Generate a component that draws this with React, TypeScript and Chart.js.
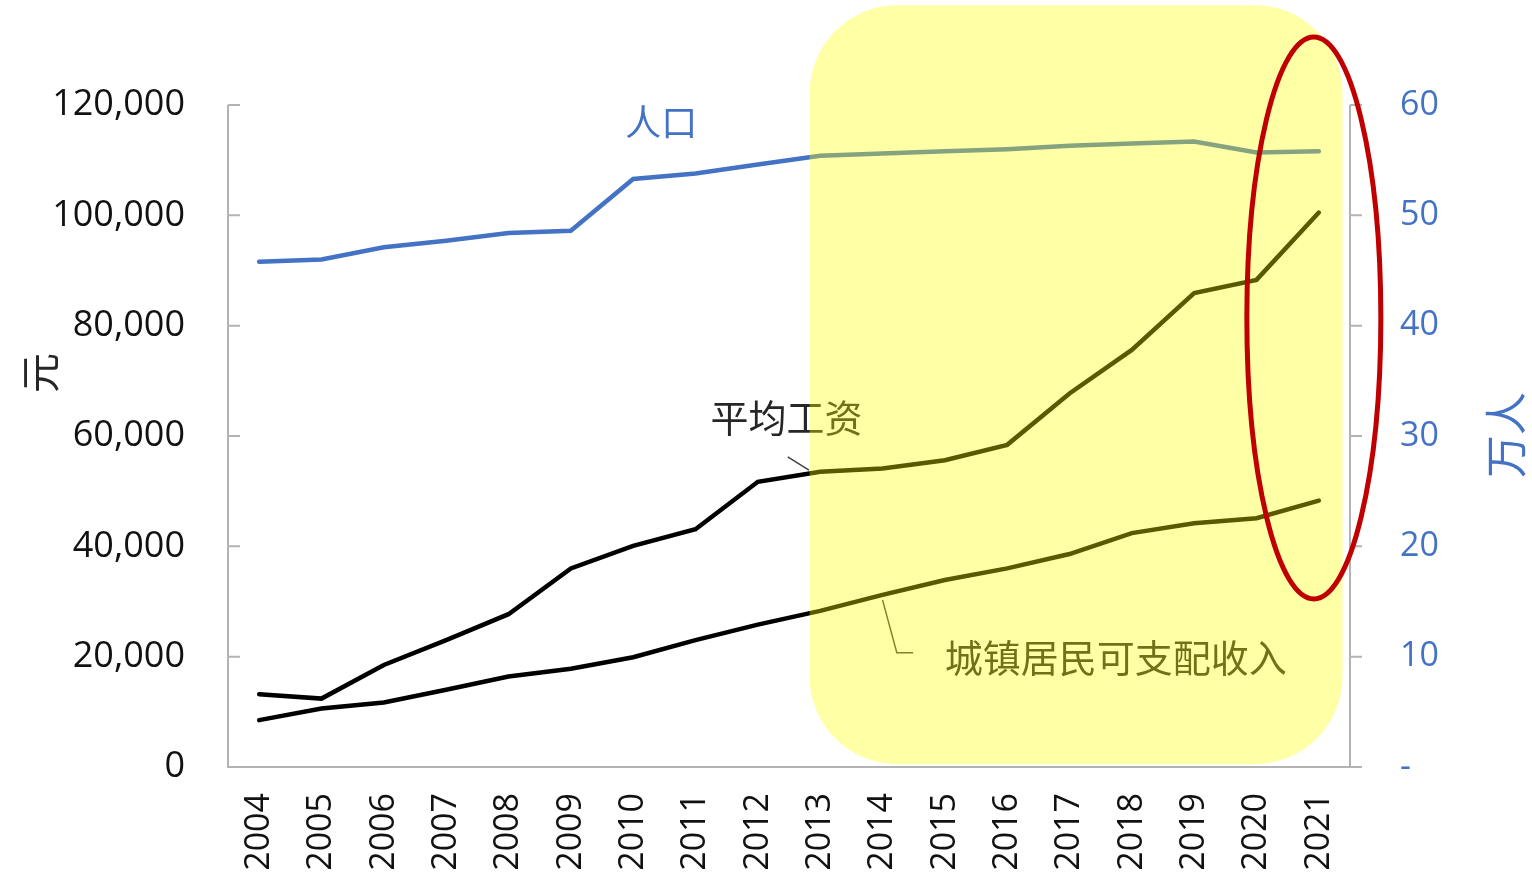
import React, { useEffect, useRef } from "react";
import { Chart, registerables } from "chart.js";

Chart.register(...registerables);

const years = ["2004","2005","2006","2007","2008","2009","2010","2011","2012","2013","2014","2015","2016","2017","2018","2019","2020","2021"];
const population = [45.8, 46.0, 47.1, 47.7, 48.4, 48.6, 53.3, 53.8, 54.6, 55.4, 55.6, 55.8, 56.0, 56.3, 56.5, 56.7, 55.7, 55.8];
const avgWage = [13200, 12400, 18500, 23000, 27700, 36000, 40100, 43100, 51700, 53500, 54100, 55600, 58400, 67700, 75600, 85900, 88300, 100500];
const urbanIncome = [8500, 10600, 11700, 14000, 16400, 17800, 19900, 23000, 25800, 28300, 31200, 33900, 36000, 38600, 42400, 44200, 45100, 48300];
const leftTicks = [0, 20000, 40000, 60000, 80000, 100000, 120000];
const rightTicks = [0, 10, 20, 30, 40, 50, 60];

const FONT = '"Open Sans", "Noto Sans CJK SC", sans-serif';
const CJK = '"Noto Sans CJK SC", sans-serif';
const BLUE = "#4472C4";
const AXIS = "#b3b3b3";

const decorPlugin = {
  id: "decor",
  beforeDatasetsDraw(chart: any) {
    const { ctx, chartArea } = chart;
    const yl = chart.scales.y;
    const yr = chart.scales.y1;
    ctx.save();
    ctx.strokeStyle = AXIS;
    ctx.lineWidth = 2;
    ctx.beginPath();
    ctx.moveTo(chartArea.left, chartArea.top);
    ctx.lineTo(chartArea.left, chartArea.bottom);
    ctx.lineTo(chartArea.right + 12, chartArea.bottom);
    ctx.moveTo(chartArea.right, chartArea.top);
    ctx.lineTo(chartArea.right, chartArea.bottom);
    leftTicks.forEach((v) => {
      const y = yl.getPixelForValue(v);
      ctx.moveTo(chartArea.left, y);
      ctx.lineTo(chartArea.left + 12, y);
    });
    rightTicks.forEach((v) => {
      const y = yr.getPixelForValue(v);
      ctx.moveTo(chartArea.right, y);
      ctx.lineTo(chartArea.right + 12, y);
    });
    ctx.stroke();
    ctx.restore();
  },
  afterDatasetsDraw(chart: any) {
    const { ctx } = chart;
    const x = chart.scales.x;
    const yl = chart.scales.y;
    const yr = chart.scales.y1;
    const px = (i: number) => x.getPixelForValue(i);
    const py = (v: number) => yl.getPixelForValue(v);
    ctx.save();
    // axis titles
    ctx.textAlign = "center";
    ctx.textBaseline = "middle";
    ctx.font = `40px ${CJK}`;
    ctx.fillStyle = "#262626";
    ctx.save();
    ctx.translate(40, 373);
    ctx.rotate(-Math.PI / 2);
    ctx.fillText("元", 0, 0);
    ctx.restore();
    ctx.font = `43px ${CJK}`;
    ctx.fillStyle = BLUE;
    ctx.save();
    ctx.translate(1506, 435);
    ctx.rotate(-Math.PI / 2);
    ctx.fillText("万人", 0, 0);
    ctx.restore();

    // labels
    ctx.font = `36px ${CJK}`;
    ctx.fillStyle = BLUE;
    ctx.fillText("人口", px(6.45), yr.getPixelForValue(58.4));
    ctx.font = `38px ${CJK}`;
    ctx.fillStyle = "#262626";
    ctx.fillText("平均工资", px(8.46), py(63300));
    ctx.textAlign = "left";
    ctx.fillText("城镇居民可支配收入", px(11.0), py(19900));

    ctx.strokeStyle = "#404040";
    ctx.lineWidth = 1.5;
    ctx.beginPath();
    ctx.moveTo(px(8.48), py(56200));
    ctx.lineTo(px(8.82), py(53800));
    ctx.stroke();
    ctx.beginPath();
    ctx.moveTo(px(10.0), py(30300));
    ctx.lineTo(px(10.23), py(20700));
    ctx.lineTo(px(10.49), py(20700));
    ctx.stroke();

    // yellow highlight
    const rx0 = px(8.83), rx1 = px(17.38);
    const ry0 = py(138100), ry1 = py(500);
    ctx.fillStyle = "rgba(255,255,0,0.35)";
    ctx.beginPath();
    ctx.roundRect(rx0, ry0, rx1 - rx0, ry1 - ry0, 88);
    ctx.fill();

    // red ellipse
    ctx.strokeStyle = "#C00000";
    ctx.lineWidth = 5;
    ctx.beginPath();
    ctx.ellipse(px(16.92), py(81400), 67, 281, 0, 0, Math.PI * 2);
    ctx.stroke();
    ctx.restore();
  },
};

export default function App() {
  const ref = useRef<HTMLCanvasElement>(null);
  useEffect(() => {
    if (!ref.current) return;
    const chart = new Chart(ref.current, {
      type: "line",
      data: {
        labels: years,
        datasets: [
          { label: "人口", data: population, yAxisID: "y1", borderColor: BLUE, borderWidth: 4.5, pointRadius: 0, tension: 0, borderCapStyle: "round" },
          { label: "平均工资", data: avgWage, yAxisID: "y", borderColor: "#000", borderWidth: 4.5, pointRadius: 0, tension: 0, borderCapStyle: "round" },
          { label: "城镇居民可支配收入", data: urbanIncome, yAxisID: "y", borderColor: "#000", borderWidth: 4.5, pointRadius: 0, tension: 0, borderCapStyle: "round" },
        ],
      },
      options: {
        animation: false,
        responsive: false,
        layout: { padding: { top: 105, left: 0, right: 0, bottom: 0 } },
        plugins: { legend: { display: false }, title: { display: false }, tooltip: { enabled: false } },
        scales: {
          x: {
            type: "category",
            offset: true,
            grid: { display: false, drawTicks: false, tickLength: 0 },
            border: { display: false },
            ticks: { font: { family: FONT, size: 34 }, color: "#111", minRotation: 90, maxRotation: 90, padding: 26, autoSkip: false },
            afterFit: (s: any) => { s.height = 113; },
          },
          y: {
            position: "left",
            min: 0,
            max: 120000,
            grid: { display: false, drawTicks: false, tickLength: 0 },
            border: { display: false },
            ticks: {
              stepSize: 20000,
              font: { family: FONT, size: 36 },
              color: "#111",
              padding: 43,
              callback: (v: any) => Number(v).toLocaleString("en-US"),
            },
            afterFit: (s: any) => { s.width = 228; },
          },
          y1: {
            position: "right",
            min: 0,
            max: 60,
            grid: { display: false, drawTicks: false, tickLength: 0 },
            border: { display: false },
            ticks: {
              stepSize: 10,
              font: { family: FONT, size: 34 },
              color: BLUE,
              padding: 50,
              callback: (v: any) => (Number(v) === 0 ? "-" : String(v)),
            },
            afterFit: (s: any) => { s.width = 182; },
          },
        },
      },
      plugins: [decorPlugin],
    });
    return () => chart.destroy();
  }, []);
  return (
    <div style={{ position: "absolute", left: 0, top: 0, width: 1532, height: 880, background: "#fff" }}>
      <canvas ref={ref} width={1532} height={880} style={{ width: 1532, height: 880 }} />
    </div>
  );
}
